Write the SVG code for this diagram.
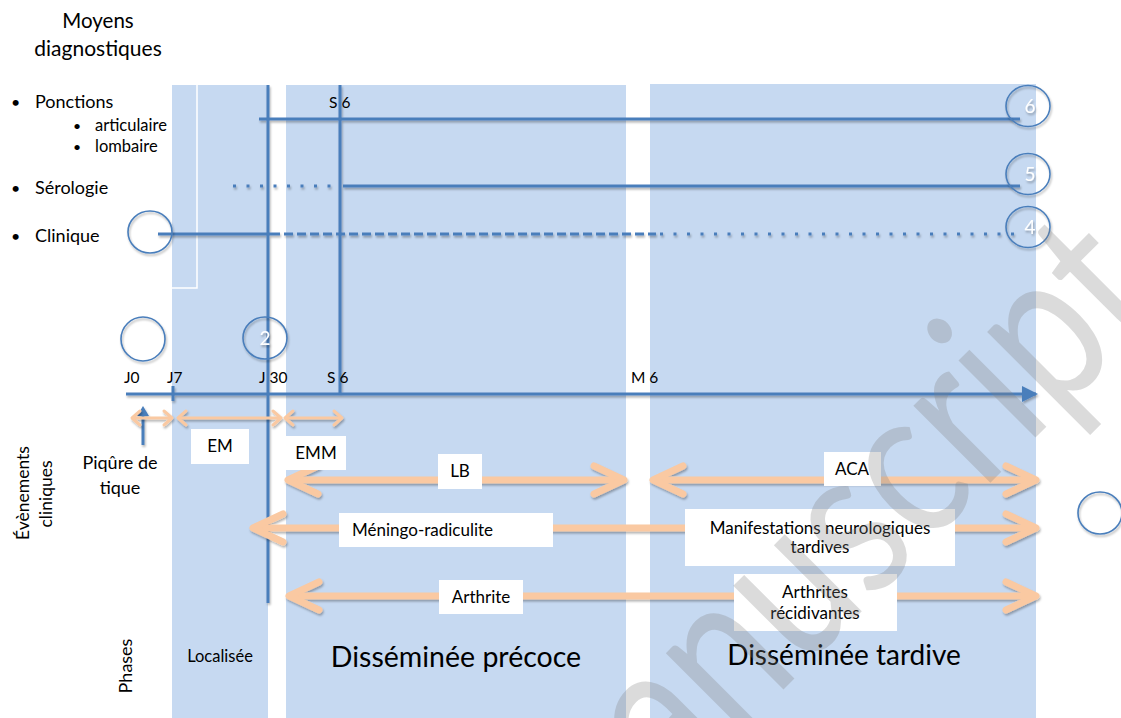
<svg xmlns="http://www.w3.org/2000/svg" width="1121" height="718" viewBox="0 0 1121 718">
<defs>
<style>
text{font-family:Lato,"Liberation Sans",sans-serif;fill:#000}
.panel{fill:#C6D9F1}
.bl{stroke:#4A7EBB;stroke-width:3;fill:none}
.circ{fill:none;stroke:#4A7EBB;stroke-width:1.6}
.num{fill:#fff;font-size:19px;text-anchor:middle}
.pk{stroke:#FAC9A2;fill:none;stroke-linecap:round;stroke-linejoin:round}
.thick{stroke-width:7}
.thin{stroke-width:3}
.box{fill:#fff}
.lbl{font-size:17px}
.side{font-size:17.5px}
.c{text-anchor:middle}
.ax{font-size:15.5px}
</style>
<filter id="sh" filterUnits="userSpaceOnUse" x="0" y="0" width="1121" height="718">
<feDropShadow dx="1" dy="2" stdDeviation="1.3" flood-color="#000" flood-opacity="0.3"/>
</filter>
<marker id="axh" markerWidth="16" markerHeight="16" refX="14" refY="8" orient="auto" markerUnits="userSpaceOnUse">
<path d="M0,0 L16,8 L0,16 Z" fill="#4A7EBB"/>
</marker>
</defs>
<rect width="1121" height="718" fill="#fff"/>

<g id="panels">
<rect class="panel" x="172" y="85" width="96" height="633"/>
<rect class="panel" x="286" y="85" width="340" height="633"/>
<rect class="panel" x="650" y="84" width="386" height="634"/>
<path d="M197,85 V288 H172" stroke="#fff" stroke-width="1.5" fill="none"/>
</g>

<g id="diagnostics">
<text x="98" y="28" font-size="20.5" class="c">Moyens</text>
<text x="98" y="56" font-size="21" class="c">diagnostiques</text>
<text x="11" y="108" font-size="16">•</text>
<text x="35" y="108" font-size="18">Ponctions</text>
<text x="73" y="131" font-size="14">•</text>
<text x="95" y="131" font-size="16.5">articulaire</text>
<text x="73" y="152" font-size="14">•</text>
<text x="95" y="152" font-size="16.5">lombaire</text>
<text x="11" y="194" font-size="16">•</text>
<text x="35" y="194" font-size="18">Sérologie</text>
<text x="11" y="242" font-size="16">•</text>
<text x="35" y="242" font-size="18">Clinique</text>
<text x="329" y="108" class="ax">S 6</text>
</g>

<g id="connectors" filter="url(#sh)">
<line class="bl" x1="268" y1="85" x2="268" y2="603"/>
<line class="bl" x1="340" y1="85" x2="340" y2="394"/>
<line class="bl" x1="259" y1="119" x2="1020" y2="119"/>
<line class="bl" x1="233" y1="186" x2="340" y2="186" stroke-dasharray="3 10.5"/>
<line class="bl" x1="343" y1="186" x2="1020" y2="186"/>
<line class="bl" x1="158" y1="234" x2="280" y2="234"/>
<line class="bl" x1="284" y1="234" x2="656" y2="234" stroke-dasharray="9 4"/>
<line class="bl" x1="660" y1="234" x2="1022" y2="234" stroke-dasharray="3 10.5"/>
<line class="bl" x1="126" y1="394" x2="1036" y2="394" marker-end="url(#axh)"/>
<line class="bl" x1="173" y1="386" x2="173" y2="401"/>
<line class="bl" x1="143" y1="445" x2="143" y2="414"/>
<path d="M137,416 L143,406 L149,416 Z" fill="#4A7EBB"/>
</g>

<g id="circles" filter="url(#sh)">
<g id="c6"><ellipse class="circ" cx="1028" cy="106" rx="22" ry="20.5"/><text class="num" x="1030" y="113">6</text></g>
<g id="c5"><ellipse class="circ" cx="1028" cy="174" rx="22" ry="20.5"/><text class="num" x="1030" y="181">5</text></g>
<g id="c4"><ellipse class="circ" cx="1028" cy="227" rx="22" ry="20.5"/><text class="num" x="1030" y="234">4</text></g>
<g id="c1"><ellipse class="circ" cx="150" cy="232" rx="22" ry="21"/></g>
<g id="c0"><ellipse class="circ" cx="143" cy="339" rx="22" ry="22"/></g>
<g id="c2"><ellipse class="circ" cx="265" cy="338" rx="22" ry="21"/><text class="num" x="265" y="345">2</text></g>
<g id="c3"><ellipse class="circ" cx="1100" cy="513" rx="22" ry="21"/></g>
</g>

<g id="timeline-labels">
<text x="124" y="383" class="ax">J0</text>
<text x="167" y="383" class="ax">J7</text>
<text x="259" y="383" class="ax">J 30</text>
<text x="327" y="383" class="ax">S 6</text>
<text x="631" y="383" class="ax">M 6</text>
</g>

<g id="events-connectors" filter="url(#sh)">
<g class="pk thin">
<line x1="133" y1="418" x2="171" y2="418"/>
<path d="M140,411 L132,418 L140,425 M164,411 L172,418 L164,425"/>
<line x1="179" y1="418" x2="279" y2="418"/>
<path d="M186,411 L178,418 L186,425 M273,411 L281,418 L273,425"/>
<line x1="286" y1="418" x2="340" y2="418"/>
<path d="M293,411 L285,418 L293,425 M334,411 L342,418 L334,425"/>
</g>
<g class="pk thick">
<line x1="291" y1="480" x2="621" y2="480"/>
<path d="M318,466 L288,480 L318,494 M594,466 L624,480 L594,494"/>
<line x1="656" y1="480" x2="1033" y2="480"/>
<path d="M683,466 L653,480 L683,494 M1006,466 L1036,480 L1006,494"/>
<line x1="256" y1="528" x2="1033" y2="528"/>
<path d="M283,514 L253,528 L283,542 M1006,514 L1036,528 L1006,542"/>
<line x1="292" y1="596" x2="1033" y2="596"/>
<path d="M319,582 L289,596 L319,610 M1006,582 L1036,596 L1006,610"/>
</g>
</g>

<g id="event-labels">
<g id="em"><rect class="box" x="191" y="429" width="58" height="35"/><text class="lbl c" x="220" y="452">EM</text></g>
<g id="emm"><rect class="box" x="286" y="436" width="60" height="34"/><text class="lbl c" x="316" y="459">EMM</text></g>
<g id="lb"><rect class="box" x="438" y="454" width="44" height="35"/><text class="lbl c" x="460" y="477">LB</text></g>
<g id="aca"><rect class="box" x="824" y="452" width="57" height="34"/><text class="lbl c" x="852" y="475">ACA</text></g>
<g id="meningo"><rect class="box" x="339" y="513" width="214" height="34"/><text class="lbl" x="352" y="536">Méningo-radiculite</text></g>
<g id="manif"><rect class="box" x="685" y="509" width="270" height="57"/><text class="lbl c" x="820" y="534">Manifestations neurologiques</text><text class="lbl c" x="820" y="553">tardives</text></g>
<g id="arthrite"><rect class="box" x="439" y="580" width="84" height="34"/><text class="lbl c" x="481" y="603">Arthrite</text></g>
<g id="arthrites"><rect class="box" x="734" y="574" width="163" height="57"/><text class="lbl c" x="815" y="598">Arthrites</text><text class="lbl c" x="815" y="619">récidivantes</text></g>
<g id="piqure"><text class="c" font-size="18" x="120" y="469">Piqûre de</text><text class="c" font-size="18" x="120" y="494">tique</text></g>
</g>

<g id="side-labels">
<text class="side c" transform="translate(29,493) rotate(-90)">Évènements</text>
<text class="side c" transform="translate(52,494) rotate(-90)">cliniques</text>
<text class="c" font-size="18" transform="translate(132,666) rotate(-90)">Phases</text>
</g>

<g id="phases">
<text x="220" y="662" font-size="16.5" class="c">Localisée</text>
<text x="456" y="667" font-size="28.5" class="c">Disséminée précoce</text>
<text x="844" y="665" font-size="28" class="c">Disséminée tardive</text>
</g>

<text transform="translate(573,900) rotate(-45)" font-size="215" textLength="840" lengthAdjust="spacingAndGlyphs" style="fill:#7f7f7f" opacity="0.28">manuscript</text>
</svg>
